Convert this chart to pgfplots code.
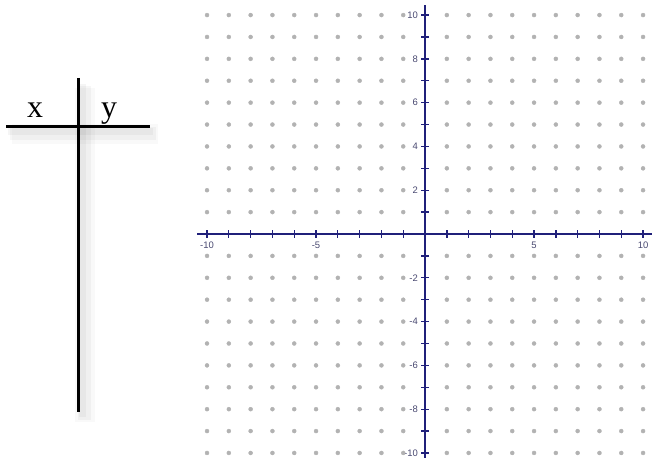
\documentclass[border=0pt]{standalone}
\usepackage{fontspec}
\setmainfont{Liberation Serif}
\newfontfamily\tickfont{Liberation Sans}
\usepackage{pgfplots}
\pgfplotsset{compat=1.18}
\definecolor{navy}{RGB}{32,32,122}
\definecolor{ticklab}{RGB}{72,72,112}
\definecolor{dotgray}{RGB}{178,178,178}
\begin{document}
\begin{tikzpicture}
\path[use as bounding box] (0,0) rectangle (652bp,458bp);
% T-chart, drawn in pixel units of the reference
\begin{axis}[at={(0bp,0bp)}, anchor=south west, width=652bp, height=458bp, scale only axis,
  xmin=0, xmax=652, ymin=0, ymax=458, y dir=reverse, axis lines=none, clip=false]
\addplot[black, opacity=0.025, line width=20bp] coordinates {(85,88) (85,422)};
\addplot[black, opacity=0.025, line width=20bp] coordinates {(12,134) (158,134)};
\addplot[black, opacity=0.035, line width=13bp] coordinates {(84,86) (84,420)};
\addplot[black, opacity=0.035, line width=13bp] coordinates {(10,133) (156,133)};
\addplot[black, opacity=0.04, line width=7bp] coordinates {(82,84) (82,417)};
\addplot[black, opacity=0.04, line width=7bp] coordinates {(8,131) (153,131)};
\addplot[black, line width=3bp] coordinates {(78,78) (78,412)};
\addplot[black, line width=3bp] coordinates {(6,126) (150,126)};
\node[anchor=base, font=\fontsize{32}{34}\selectfont] at (axis cs:35,117) {x};
\node[anchor=base, font=\fontsize{32}{34}\selectfont] at (axis cs:109,117) {y};
\end{axis}
% coordinate plane
\begin{axis}[at={(197bp,0bp)}, anchor=south west, width=455bp, height=453bp, scale only axis,
  xmin=-10.46, xmax=10.41, ymin=-10.23, ymax=10.46,
  axis lines=middle, axis line style={navy, line width=1.8bp, -},
  hide obscured x ticks=false, hide obscured y ticks=false,
  xtick={-10,...,10}, ytick={-10,...,10},
  xticklabels={-10,,,,,-5,,,,,,,,,,5,,,,,10},
  yticklabels={-10,,-8,,-6,,-4,,-2,,,,2,,4,,6,,8,,10},
  tick align=center, major tick length=7.5bp, tick style={navy, line width=1.3bp},
  ticklabel style={font=\tickfont\fontsize{9.5}{10}\selectfont, text=ticklab},
  xticklabel style={yshift=-0.5bp},
  clip=false, axis on top]
\addplot[only marks, mark=*, mark size=2bp, color=dotgray] coordinates {
(-10,-10) (-10,-9) (-10,-8) (-10,-7) (-10,-6) (-10,-5) (-10,-4) (-10,-3) (-10,-2) (-10,-1) (-10,1) (-10,2) (-10,3) (-10,4) (-10,5) (-10,6) (-10,7) (-10,8) (-10,9) (-10,10)
(-9,-10) (-9,-9) (-9,-8) (-9,-7) (-9,-6) (-9,-5) (-9,-4) (-9,-3) (-9,-2) (-9,-1) (-9,1) (-9,2) (-9,3) (-9,4) (-9,5) (-9,6) (-9,7) (-9,8) (-9,9) (-9,10)
(-8,-10) (-8,-9) (-8,-8) (-8,-7) (-8,-6) (-8,-5) (-8,-4) (-8,-3) (-8,-2) (-8,-1) (-8,1) (-8,2) (-8,3) (-8,4) (-8,5) (-8,6) (-8,7) (-8,8) (-8,9) (-8,10)
(-7,-10) (-7,-9) (-7,-8) (-7,-7) (-7,-6) (-7,-5) (-7,-4) (-7,-3) (-7,-2) (-7,-1) (-7,1) (-7,2) (-7,3) (-7,4) (-7,5) (-7,6) (-7,7) (-7,8) (-7,9) (-7,10)
(-6,-10) (-6,-9) (-6,-8) (-6,-7) (-6,-6) (-6,-5) (-6,-4) (-6,-3) (-6,-2) (-6,-1) (-6,1) (-6,2) (-6,3) (-6,4) (-6,5) (-6,6) (-6,7) (-6,8) (-6,9) (-6,10)
(-5,-10) (-5,-9) (-5,-8) (-5,-7) (-5,-6) (-5,-5) (-5,-4) (-5,-3) (-5,-2) (-5,-1) (-5,1) (-5,2) (-5,3) (-5,4) (-5,5) (-5,6) (-5,7) (-5,8) (-5,9) (-5,10)
(-4,-10) (-4,-9) (-4,-8) (-4,-7) (-4,-6) (-4,-5) (-4,-4) (-4,-3) (-4,-2) (-4,-1) (-4,1) (-4,2) (-4,3) (-4,4) (-4,5) (-4,6) (-4,7) (-4,8) (-4,9) (-4,10)
(-3,-10) (-3,-9) (-3,-8) (-3,-7) (-3,-6) (-3,-5) (-3,-4) (-3,-3) (-3,-2) (-3,-1) (-3,1) (-3,2) (-3,3) (-3,4) (-3,5) (-3,6) (-3,7) (-3,8) (-3,9) (-3,10)
(-2,-10) (-2,-9) (-2,-8) (-2,-7) (-2,-6) (-2,-5) (-2,-4) (-2,-3) (-2,-2) (-2,-1) (-2,1) (-2,2) (-2,3) (-2,4) (-2,5) (-2,6) (-2,7) (-2,8) (-2,9) (-2,10)
(-1,-10) (-1,-9) (-1,-8) (-1,-7) (-1,-6) (-1,-5) (-1,-4) (-1,-3) (-1,-2) (-1,-1) (-1,1) (-1,2) (-1,3) (-1,4) (-1,5) (-1,6) (-1,7) (-1,8) (-1,9) (-1,10)
(1,-10) (1,-9) (1,-8) (1,-7) (1,-6) (1,-5) (1,-4) (1,-3) (1,-2) (1,-1) (1,1) (1,2) (1,3) (1,4) (1,5) (1,6) (1,7) (1,8) (1,9) (1,10)
(2,-10) (2,-9) (2,-8) (2,-7) (2,-6) (2,-5) (2,-4) (2,-3) (2,-2) (2,-1) (2,1) (2,2) (2,3) (2,4) (2,5) (2,6) (2,7) (2,8) (2,9) (2,10)
(3,-10) (3,-9) (3,-8) (3,-7) (3,-6) (3,-5) (3,-4) (3,-3) (3,-2) (3,-1) (3,1) (3,2) (3,3) (3,4) (3,5) (3,6) (3,7) (3,8) (3,9) (3,10)
(4,-10) (4,-9) (4,-8) (4,-7) (4,-6) (4,-5) (4,-4) (4,-3) (4,-2) (4,-1) (4,1) (4,2) (4,3) (4,4) (4,5) (4,6) (4,7) (4,8) (4,9) (4,10)
(5,-10) (5,-9) (5,-8) (5,-7) (5,-6) (5,-5) (5,-4) (5,-3) (5,-2) (5,-1) (5,1) (5,2) (5,3) (5,4) (5,5) (5,6) (5,7) (5,8) (5,9) (5,10)
(6,-10) (6,-9) (6,-8) (6,-7) (6,-6) (6,-5) (6,-4) (6,-3) (6,-2) (6,-1) (6,1) (6,2) (6,3) (6,4) (6,5) (6,6) (6,7) (6,8) (6,9) (6,10)
(7,-10) (7,-9) (7,-8) (7,-7) (7,-6) (7,-5) (7,-4) (7,-3) (7,-2) (7,-1) (7,1) (7,2) (7,3) (7,4) (7,5) (7,6) (7,7) (7,8) (7,9) (7,10)
(8,-10) (8,-9) (8,-8) (8,-7) (8,-6) (8,-5) (8,-4) (8,-3) (8,-2) (8,-1) (8,1) (8,2) (8,3) (8,4) (8,5) (8,6) (8,7) (8,8) (8,9) (8,10)
(9,-10) (9,-9) (9,-8) (9,-7) (9,-6) (9,-5) (9,-4) (9,-3) (9,-2) (9,-1) (9,1) (9,2) (9,3) (9,4) (9,5) (9,6) (9,7) (9,8) (9,9) (9,10)
(10,-10) (10,-9) (10,-8) (10,-7) (10,-6) (10,-5) (10,-4) (10,-3) (10,-2) (10,-1) (10,1) (10,2) (10,3) (10,4) (10,5) (10,6) (10,7) (10,8) (10,9) (10,10)
};
\end{axis}
\end{tikzpicture}
\end{document}
